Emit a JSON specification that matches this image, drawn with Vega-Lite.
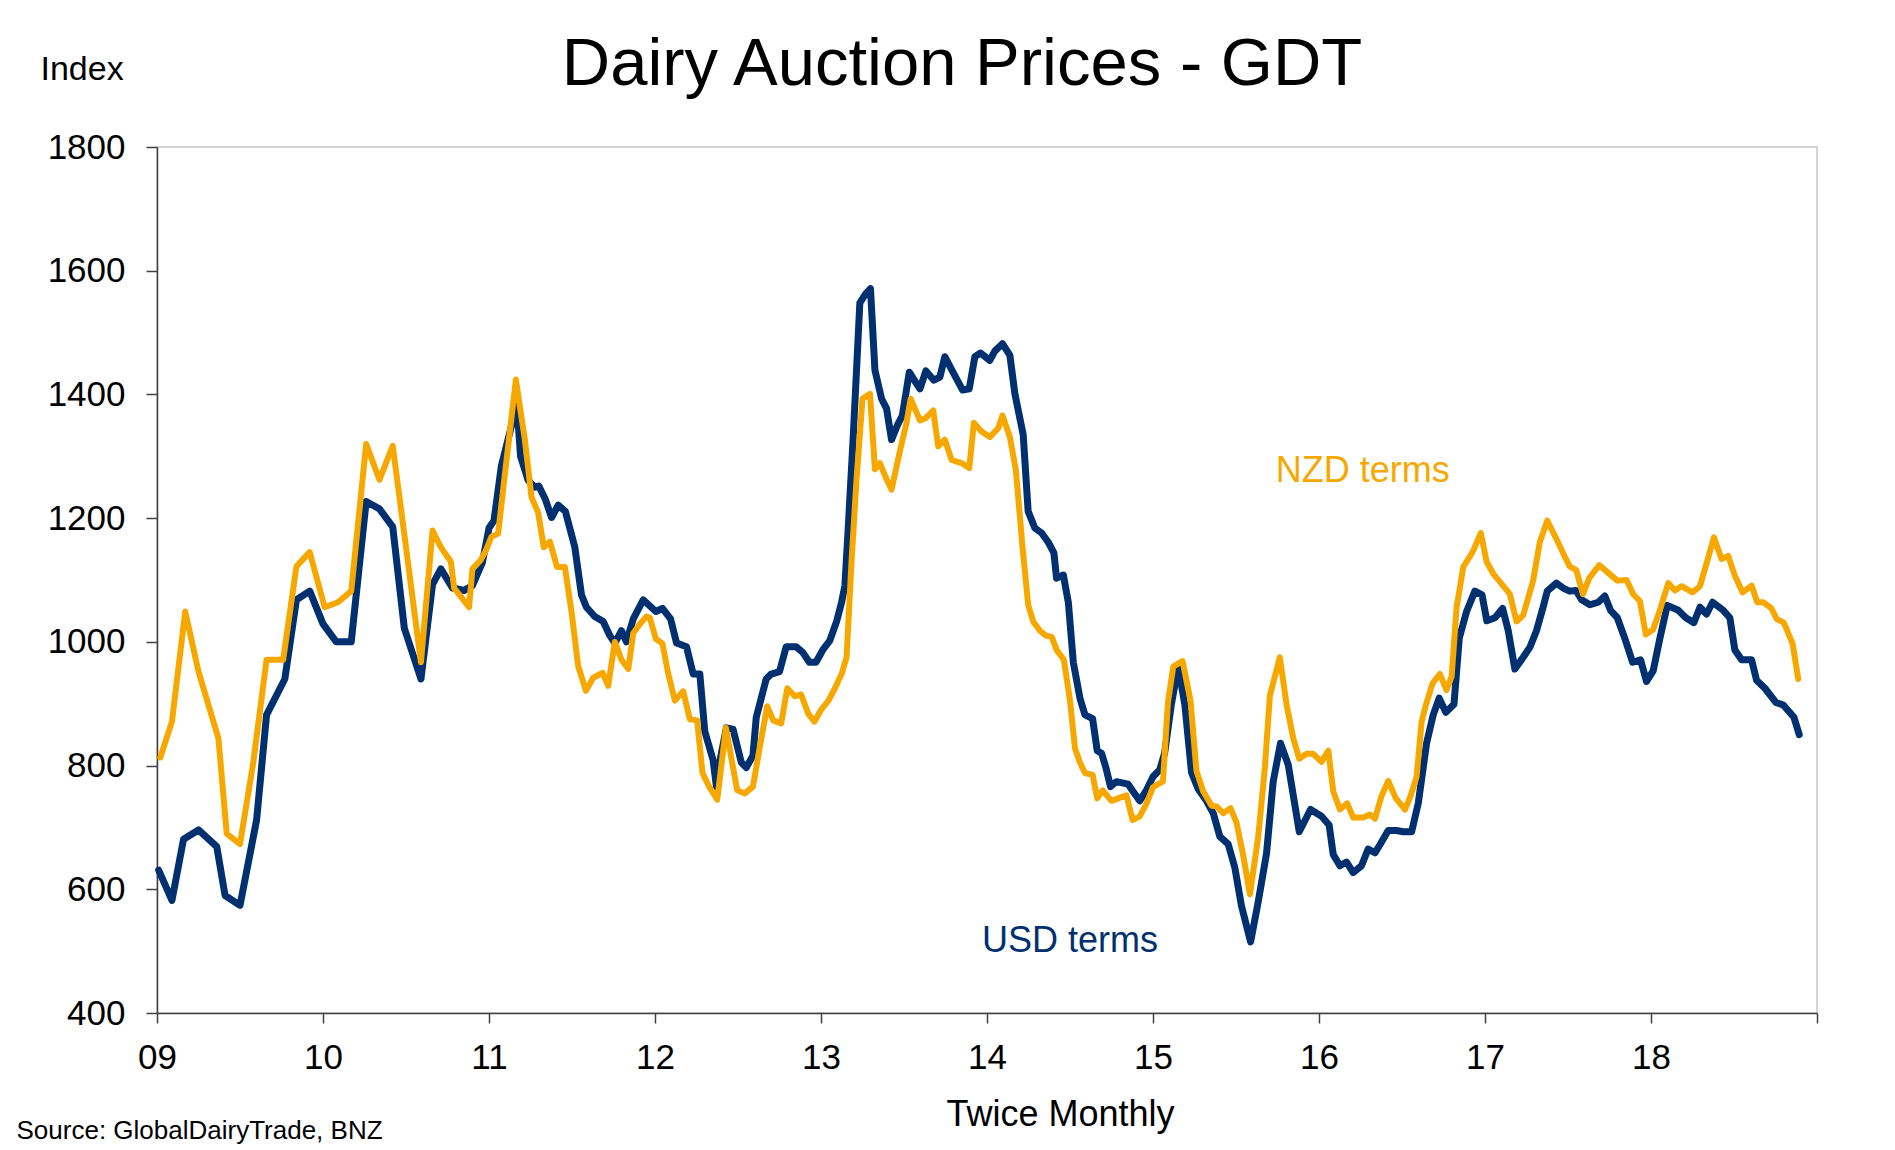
{
  "$schema": "https://vega.github.io/schema/vega-lite/v6.json",
  "width": 1660,
  "height": 866,
  "autosize": {"type": "none"},
  "padding": {"left": 157, "top": 147, "right": 78, "bottom": 137},
  "background": "white",
  "config": {
    "font": "Liberation Sans",
    "view": {"stroke": "#c6c6c6", "strokeWidth": 1.5},
    "axis": {"domainColor": "#404040", "tickColor": "#404040", "domainWidth": 1.5, "tickWidth": 1.5, "labelColor": "black", "titleColor": "black", "grid": false, "titleFontWeight": "normal"},
    "axisY": {"labelFontSize": 35, "labelPadding": 21, "tickSize": 11, "titleAngle": 0, "titleX": -117, "titleY": -67.5, "titleAlign": "left", "titleBaseline": "alphabetic", "titleFontSize": 34}
  },
  "title": {"text": "Dairy Auction Prices - GDT", "fontSize": 67, "fontWeight": "normal", "color": "black", "anchor": "middle", "frame": "group", "baseline": "alphabetic", "offset": 0, "dx": -25, "dy": 99},
  "datasets": {
    "usd": [
      {"t":2009.01,"v":631},{"t":2009.09,"v":582},{"t":2009.16,"v":681},{"t":2009.25,"v":696},{"t":2009.36,"v":669},{"t":2009.41,"v":590},{"t":2009.50,"v":574},{"t":2009.60,"v":712},{"t":2009.66,"v":882},{"t":2009.77,"v":940},{"t":2009.84,"v":1068},{"t":2009.92,"v":1082},{"t":2010.00,"v":1029},{"t":2010.08,"v":1000},{"t":2010.17,"v":1000},{"t":2010.26,"v":1227},{"t":2010.34,"v":1215},{"t":2010.42,"v":1186},{"t":2010.49,"v":1022},{"t":2010.59,"v":940},{"t":2010.66,"v":1093},{"t":2010.71,"v":1118},{"t":2010.78,"v":1087},{"t":2010.85,"v":1083},{"t":2010.90,"v":1091},{"t":2010.96,"v":1128},{"t":2011.00,"v":1184},{"t":2011.03,"v":1196},{"t":2011.075,"v":1285},{"t":2011.14,"v":1354},{"t":2011.166,"v":1390},{"t":2011.19,"v":1300},{"t":2011.236,"v":1261},{"t":2011.276,"v":1250},{"t":2011.30,"v":1252},{"t":2011.34,"v":1230},{"t":2011.377,"v":1201},{"t":2011.417,"v":1221},{"t":2011.46,"v":1211},{"t":2011.517,"v":1153},{"t":2011.557,"v":1076},{"t":2011.587,"v":1056},{"t":2011.637,"v":1041},{"t":2011.688,"v":1033},{"t":2011.728,"v":1010},{"t":2011.758,"v":998},{"t":2011.798,"v":1018},{"t":2011.828,"v":1000},{"t":2011.869,"v":1037},{"t":2011.929,"v":1068},{"t":2012.005,"v":1049},{"t":2012.045,"v":1054},{"t":2012.094,"v":1037},{"t":2012.13,"v":998},{"t":2012.19,"v":992},{"t":2012.23,"v":948},{"t":2012.27,"v":948},{"t":2012.30,"v":855},{"t":2012.35,"v":809},{"t":2012.37,"v":766},{"t":2012.395,"v":813},{"t":2012.43,"v":861},{"t":2012.47,"v":859},{"t":2012.52,"v":805},{"t":2012.55,"v":797},{"t":2012.59,"v":816},{"t":2012.61,"v":878},{"t":2012.67,"v":940},{"t":2012.70,"v":948},{"t":2012.75,"v":952},{"t":2012.79,"v":992},{"t":2012.85,"v":992},{"t":2012.89,"v":983},{"t":2012.93,"v":967},{"t":2012.97,"v":967},{"t":2013.013,"v":988},{"t":2013.053,"v":1002},{"t":2013.094,"v":1033},{"t":2013.124,"v":1064},{"t":2013.144,"v":1091},{"t":2013.164,"v":1184},{"t":2013.194,"v":1331},{"t":2013.234,"v":1548},{"t":2013.27,"v":1563},{"t":2013.298,"v":1571},{"t":2013.325,"v":1439},{"t":2013.365,"v":1393},{"t":2013.395,"v":1377},{"t":2013.425,"v":1327},{"t":2013.46,"v":1350},{"t":2013.49,"v":1366},{"t":2013.532,"v":1436},{"t":2013.56,"v":1424},{"t":2013.596,"v":1409},{"t":2013.632,"v":1438},{"t":2013.68,"v":1423},{"t":2013.716,"v":1428},{"t":2013.746,"v":1461},{"t":2013.787,"v":1440},{"t":2013.853,"v":1407},{"t":2013.893,"v":1409},{"t":2013.927,"v":1461},{"t":2013.961,"v":1467},{"t":2014.017,"v":1455},{"t":2014.047,"v":1470},{"t":2014.093,"v":1482},{"t":2014.138,"v":1463},{"t":2014.168,"v":1401},{"t":2014.218,"v":1335},{"t":2014.248,"v":1211},{"t":2014.288,"v":1184},{"t":2014.329,"v":1176},{"t":2014.369,"v":1161},{"t":2014.403,"v":1144},{"t":2014.419,"v":1103},{"t":2014.46,"v":1108},{"t":2014.49,"v":1064},{"t":2014.52,"v":967},{"t":2014.56,"v":909},{"t":2014.59,"v":882},{"t":2014.636,"v":876},{"t":2014.664,"v":824},{"t":2014.69,"v":820},{"t":2014.716,"v":797},{"t":2014.744,"v":766},{"t":2014.78,"v":774},{"t":2014.85,"v":770},{"t":2014.88,"v":758},{"t":2014.92,"v":743},{"t":2014.96,"v":760},{"t":2015.00,"v":782},{"t":2015.04,"v":793},{"t":2015.07,"v":820},{"t":2015.11,"v":898},{"t":2015.152,"v":960},{"t":2015.192,"v":898},{"t":2015.232,"v":789},{"t":2015.272,"v":762},{"t":2015.322,"v":743},{"t":2015.363,"v":723},{"t":2015.403,"v":685},{"t":2015.453,"v":673},{"t":2015.493,"v":635},{"t":2015.533,"v":573},{"t":2015.588,"v":515},{"t":2015.634,"v":580},{"t":2015.684,"v":658},{"t":2015.724,"v":774},{"t":2015.768,"v":836},{"t":2015.815,"v":801},{"t":2015.881,"v":693},{"t":2015.949,"v":729},{"t":2016.015,"v":718},{"t":2016.061,"v":704},{"t":2016.086,"v":656},{"t":2016.126,"v":638},{"t":2016.166,"v":644},{"t":2016.206,"v":627},{"t":2016.256,"v":638},{"t":2016.296,"v":665},{"t":2016.337,"v":659},{"t":2016.367,"v":672},{"t":2016.417,"v":695},{"t":2016.467,"v":695},{"t":2016.507,"v":693},{"t":2016.558,"v":693},{"t":2016.598,"v":739},{"t":2016.648,"v":836},{"t":2016.688,"v":882},{"t":2016.724,"v":909},{"t":2016.764,"v":886},{"t":2016.813,"v":899},{"t":2016.845,"v":1006},{"t":2016.889,"v":1049},{"t":2016.939,"v":1082},{"t":2016.982,"v":1076},{"t":2017.011,"v":1034},{"t":2017.06,"v":1039},{"t":2017.106,"v":1054},{"t":2017.14,"v":1018},{"t":2017.18,"v":956},{"t":2017.23,"v":975},{"t":2017.27,"v":991},{"t":2017.31,"v":1018},{"t":2017.347,"v":1053},{"t":2017.375,"v":1082},{"t":2017.43,"v":1095},{"t":2017.471,"v":1087},{"t":2017.51,"v":1082},{"t":2017.548,"v":1083},{"t":2017.582,"v":1068},{"t":2017.632,"v":1060},{"t":2017.682,"v":1064},{"t":2017.722,"v":1074},{"t":2017.756,"v":1051},{"t":2017.797,"v":1039},{"t":2017.843,"v":1005},{"t":2017.889,"v":967},{"t":2017.937,"v":971},{"t":2017.973,"v":936},{"t":2018.013,"v":953},{"t":2018.053,"v":1005},{"t":2018.098,"v":1059},{"t":2018.164,"v":1051},{"t":2018.21,"v":1039},{"t":2018.258,"v":1031},{"t":2018.295,"v":1056},{"t":2018.335,"v":1045},{"t":2018.371,"v":1064},{"t":2018.435,"v":1051},{"t":2018.475,"v":1039},{"t":2018.505,"v":987},{"t":2018.546,"v":971},{"t":2018.606,"v":971},{"t":2018.636,"v":938},{"t":2018.686,"v":925},{"t":2018.752,"v":902},{"t":2018.797,"v":898},{"t":2018.861,"v":878},{"t":2018.893,"v":850}
    ],
    "nzd": [
      {"t":2009.02,"v":813},{"t":2009.09,"v":871},{"t":2009.17,"v":1049},{"t":2009.25,"v":952},{"t":2009.37,"v":844},{"t":2009.42,"v":690},{"t":2009.50,"v":673},{"t":2009.58,"v":805},{"t":2009.66,"v":971},{"t":2009.76,"v":971},{"t":2009.84,"v":1122},{"t":2009.92,"v":1145},{"t":2010.01,"v":1056},{"t":2010.09,"v":1064},{"t":2010.17,"v":1082},{"t":2010.26,"v":1320},{"t":2010.34,"v":1262},{"t":2010.42,"v":1317},{"t":2010.50,"v":1153},{"t":2010.59,"v":967},{"t":2010.66,"v":1180},{"t":2010.71,"v":1153},{"t":2010.77,"v":1130},{"t":2010.79,"v":1087},{"t":2010.88,"v":1056},{"t":2010.90,"v":1118},{"t":2010.95,"v":1132},{"t":2010.98,"v":1147},{"t":2011.015,"v":1170},{"t":2011.055,"v":1175},{"t":2011.095,"v":1269},{"t":2011.162,"v":1424},{"t":2011.216,"v":1327},{"t":2011.256,"v":1234},{"t":2011.296,"v":1209},{"t":2011.33,"v":1153},{"t":2011.367,"v":1162},{"t":2011.41,"v":1121},{"t":2011.457,"v":1121},{"t":2011.497,"v":1049},{"t":2011.537,"v":961},{"t":2011.584,"v":921},{"t":2011.628,"v":942},{"t":2011.684,"v":950},{"t":2011.718,"v":929},{"t":2011.758,"v":1000},{"t":2011.798,"v":971},{"t":2011.839,"v":956},{"t":2011.869,"v":1014},{"t":2011.909,"v":1029},{"t":2011.949,"v":1041},{"t":2011.969,"v":1039},{"t":2012.005,"v":1005},{"t":2012.045,"v":997},{"t":2012.08,"v":948},{"t":2012.12,"v":905},{"t":2012.17,"v":920},{"t":2012.21,"v":875},{"t":2012.254,"v":873},{"t":2012.286,"v":788},{"t":2012.326,"v":766},{"t":2012.375,"v":745},{"t":2012.427,"v":861},{"t":2012.495,"v":760},{"t":2012.541,"v":755},{"t":2012.59,"v":766},{"t":2012.63,"v":828},{"t":2012.676,"v":896},{"t":2012.712,"v":873},{"t":2012.76,"v":868},{"t":2012.797,"v":925},{"t":2012.842,"v":912},{"t":2012.88,"v":915},{"t":2012.923,"v":884},{"t":2012.96,"v":871},{"t":2013.00,"v":890},{"t":2013.045,"v":905},{"t":2013.084,"v":925},{"t":2013.124,"v":948},{"t":2013.154,"v":975},{"t":2013.184,"v":1130},{"t":2013.214,"v":1262},{"t":2013.25,"v":1393},{"t":2013.295,"v":1401},{"t":2013.325,"v":1279},{"t":2013.355,"v":1289},{"t":2013.385,"v":1269},{"t":2013.425,"v":1246},{"t":2013.475,"v":1308},{"t":2013.515,"v":1354},{"t":2013.54,"v":1393},{"t":2013.596,"v":1358},{"t":2013.632,"v":1362},{"t":2013.676,"v":1374},{"t":2013.706,"v":1316},{"t":2013.746,"v":1327},{"t":2013.787,"v":1294},{"t":2013.847,"v":1289},{"t":2013.893,"v":1281},{"t":2013.921,"v":1354},{"t":2013.967,"v":1340},{"t":2014.017,"v":1331},{"t":2014.067,"v":1345},{"t":2014.093,"v":1366},{"t":2014.138,"v":1331},{"t":2014.174,"v":1277},{"t":2014.214,"v":1153},{"t":2014.248,"v":1060},{"t":2014.278,"v":1033},{"t":2014.319,"v":1018},{"t":2014.355,"v":1010},{"t":2014.39,"v":1008},{"t":2014.419,"v":987},{"t":2014.463,"v":971},{"t":2014.5,"v":905},{"t":2014.53,"v":828},{"t":2014.56,"v":805},{"t":2014.59,"v":788},{"t":2014.636,"v":785},{"t":2014.664,"v":747},{"t":2014.696,"v":760},{"t":2014.75,"v":743},{"t":2014.79,"v":747},{"t":2014.84,"v":752},{"t":2014.877,"v":712},{"t":2014.92,"v":718},{"t":2014.96,"v":738},{"t":2015.00,"v":765},{"t":2015.03,"v":770},{"t":2015.06,"v":774},{"t":2015.09,"v":902},{"t":2015.122,"v":960},{"t":2015.178,"v":969},{"t":2015.226,"v":905},{"t":2015.262,"v":791},{"t":2015.303,"v":758},{"t":2015.353,"v":735},{"t":2015.383,"v":734},{"t":2015.423,"v":723},{"t":2015.467,"v":731},{"t":2015.503,"v":708},{"t":2015.544,"v":654},{"t":2015.584,"v":592},{"t":2015.634,"v":685},{"t":2015.674,"v":797},{"t":2015.704,"v":913},{"t":2015.764,"v":975},{"t":2015.805,"v":898},{"t":2015.845,"v":844},{"t":2015.881,"v":811},{"t":2015.925,"v":819},{"t":2015.965,"v":819},{"t":2016.015,"v":806},{"t":2016.056,"v":824},{"t":2016.086,"v":758},{"t":2016.126,"v":729},{"t":2016.17,"v":739},{"t":2016.206,"v":716},{"t":2016.266,"v":716},{"t":2016.307,"v":721},{"t":2016.337,"v":714},{"t":2016.377,"v":751},{"t":2016.417,"v":775},{"t":2016.463,"v":747},{"t":2016.518,"v":729},{"t":2016.552,"v":751},{"t":2016.588,"v":782},{"t":2016.618,"v":871},{"t":2016.644,"v":898},{"t":2016.684,"v":933},{"t":2016.728,"v":948},{"t":2016.768,"v":922},{"t":2016.799,"v":944},{"t":2016.829,"v":1056},{"t":2016.869,"v":1121},{"t":2016.925,"v":1145},{"t":2016.975,"v":1176},{"t":2017.009,"v":1130},{"t":2017.05,"v":1110},{"t":2017.09,"v":1097},{"t":2017.15,"v":1077},{"t":2017.19,"v":1033},{"t":2017.23,"v":1043},{"t":2017.29,"v":1099},{"t":2017.33,"v":1161},{"t":2017.375,"v":1196},{"t":2017.44,"v":1161},{"t":2017.48,"v":1138},{"t":2017.51,"v":1122},{"t":2017.55,"v":1116},{"t":2017.59,"v":1077},{"t":2017.628,"v":1103},{"t":2017.688,"v":1124},{"t":2017.732,"v":1114},{"t":2017.797,"v":1099},{"t":2017.853,"v":1100},{"t":2017.893,"v":1077},{"t":2017.933,"v":1066},{"t":2017.969,"v":1012},{"t":2018.013,"v":1020},{"t":2018.053,"v":1051},{"t":2018.104,"v":1095},{"t":2018.144,"v":1083},{"t":2018.184,"v":1090},{"t":2018.25,"v":1080},{"t":2018.295,"v":1090},{"t":2018.339,"v":1131},{"t":2018.379,"v":1169},{"t":2018.425,"v":1134},{"t":2018.465,"v":1139},{"t":2018.505,"v":1107},{"t":2018.552,"v":1080},{"t":2018.606,"v":1091},{"t":2018.64,"v":1064},{"t":2018.676,"v":1064},{"t":2018.726,"v":1054},{"t":2018.757,"v":1037},{"t":2018.8,"v":1031},{"t":2018.853,"v":997},{"t":2018.887,"v":940}
    ],
    "labels": [
      {"label": "NZD terms", "t": 2015.74, "v": 1258},
      {"label": "USD terms", "t": 2013.97, "v": 498}
    ]
  },
  "layer": [
    {
      "encoding": {
        "x": {"field": "t", "type": "quantitative",
          "scale": {"domain": [2009, 2019], "nice": false, "zero": false},
          "axis": {"values": [2009,2010,2011,2012,2013,2014,2015,2016,2017,2018,2019], "format": "d",
            "labelExpr": "datum.value >= 2019 ? '' : substring(datum.label, 2)",
            "labelFontSize": 35, "labelPadding": 17, "tickSize": 10, "labelFlush": false, "labelOverlap": false, "labelBound": false,
            "title": "Twice Monthly", "titleFontSize": 36, "titleX": 903, "titleY": 112, "titleAlign": "center", "titleBaseline": "alphabetic"}},
        "y": {"field": "v", "type": "quantitative",
          "scale": {"domain": [400, 1800], "nice": false, "zero": false},
          "axis": {"values": [400,600,800,1000,1200,1400,1600,1800], "format": "d", "title": "Index"}}
      },
      "layer": [
        {"data": {"name": "usd"}, "mark": {"type": "line", "color": "#00306F", "strokeWidth": 7, "strokeJoin": "round", "strokeCap": "round"}},
        {"data": {"name": "nzd"}, "mark": {"type": "line", "color": "#F6A800", "strokeWidth": 6, "strokeJoin": "round", "strokeCap": "round"}}
      ]
    },
    {
      "data": {"name": "labels"},
      "mark": {"type": "text", "align": "left", "baseline": "alphabetic", "fontSize": 36},
      "encoding": {
        "x": {"field": "t", "type": "quantitative",
          "scale": {"domain": [2009, 2019], "nice": false, "zero": false},
          "axis": {"orient": "bottom", "labels": false, "ticks": false, "domain": false, "grid": false,
            "title": "Source: GlobalDairyTrade, BNZ", "titleFontSize": 26, "titleX": -141, "titleY": 125, "titleAlign": "left", "titleBaseline": "alphabetic"}},
        "y": {"field": "v", "type": "quantitative",
          "scale": {"domain": [400, 1800], "nice": false, "zero": false},
          "axis": {"values": [400,600,800,1000,1200,1400,1600,1800], "format": "d", "title": "Index"}},
        "text": {"field": "label"},
        "color": {"field": "label", "type": "nominal", "scale": {"domain": ["NZD terms", "USD terms"], "range": ["#F6A800", "#00306F"]}, "legend": null}
      }
    }
  ],
  "resolve": {"scale": {"x": "independent"}}
}
